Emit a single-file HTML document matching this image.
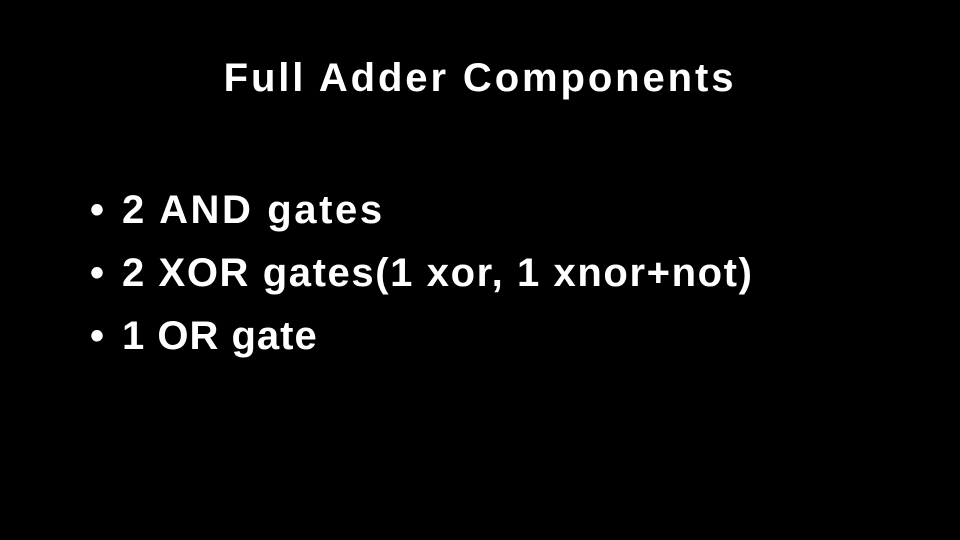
<!DOCTYPE html>
<html><head><style>
html,body{margin:0;padding:0;background:#000;width:960px;height:540px;overflow:hidden}
body{font-family:"Liberation Sans",sans-serif;color:#fff;font-weight:bold;position:relative}
.t{position:absolute;left:0;width:960px;text-align:center;top:56px;font-size:40px;letter-spacing:2.9px}
.b{position:absolute;left:90px;font-size:40px;white-space:nowrap;letter-spacing:1.6px}
.b span{display:inline-block;width:32px;letter-spacing:0}
</style></head><body>
<div class="t">Full Adder Components</div>
<div class="b" style="top:188px;letter-spacing:2.6px"><span>•</span>2 AND gates</div>
<div class="b" style="top:251px"><span>•</span>2 XOR gates(1 xor, 1 xnor+not)</div>
<div class="b" style="top:314px;letter-spacing:1px"><span>•</span>1 OR gate</div>
</body></html>
